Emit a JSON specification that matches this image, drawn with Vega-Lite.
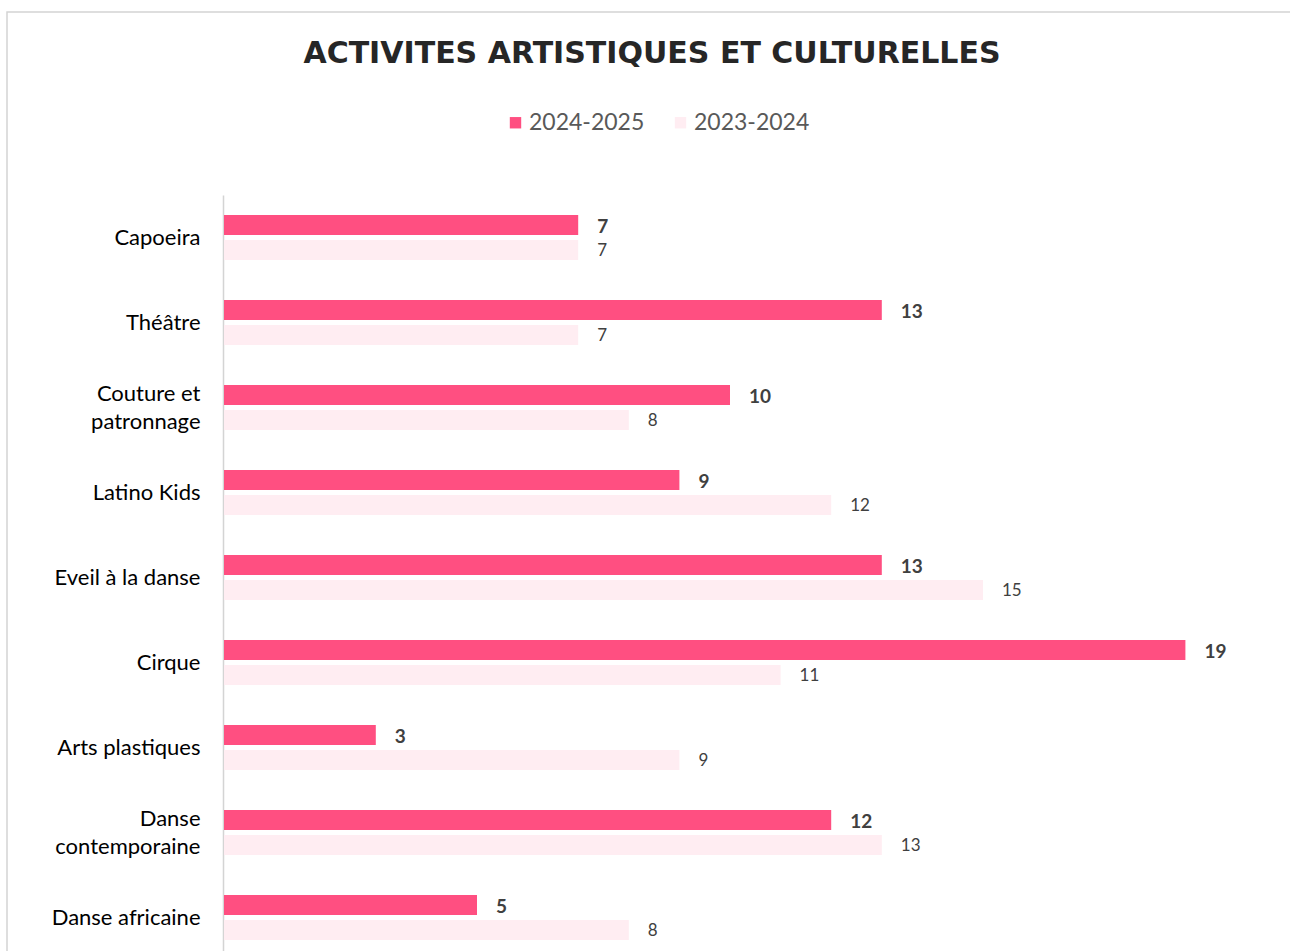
{
  "$schema": "https://vega.github.io/schema/vega-lite/v6.json",
  "autosize": {"type": "none"},
  "padding": {"left": 7, "top": 12, "right": 0, "bottom": 0},
  "width": 1290,
  "height": 960,
  "background": "white",
  "config": {
    "font": "Lato",
    "view": {"stroke": "#d4d4d4", "strokeWidth": 1.5}
  },
  "title": {
    "text": "ACTIVITES ARTISTIQUES ET CULTURELLES",
    "font": "DejaVu Sans",
    "fontSize": 30,
    "fontWeight": "bold",
    "color": "#262626",
    "anchor": "middle",
    "frame": "group",
    "baseline": "alphabetic",
    "offset": -81
  },
  "data": {
    "values": [
      {"activite": "Capoeira", "annee": "2024-2025", "valeur": 7},
      {"activite": "Capoeira", "annee": "2023-2024", "valeur": 7},
      {"activite": "Théâtre", "annee": "2024-2025", "valeur": 13},
      {"activite": "Théâtre", "annee": "2023-2024", "valeur": 7},
      {"activite": "Couture et patronnage", "annee": "2024-2025", "valeur": 10},
      {"activite": "Couture et patronnage", "annee": "2023-2024", "valeur": 8},
      {"activite": "Latino Kids", "annee": "2024-2025", "valeur": 9},
      {"activite": "Latino Kids", "annee": "2023-2024", "valeur": 12},
      {"activite": "Eveil à la danse", "annee": "2024-2025", "valeur": 13},
      {"activite": "Eveil à la danse", "annee": "2023-2024", "valeur": 15},
      {"activite": "Cirque", "annee": "2024-2025", "valeur": 19},
      {"activite": "Cirque", "annee": "2023-2024", "valeur": 11},
      {"activite": "Arts plastiques", "annee": "2024-2025", "valeur": 3},
      {"activite": "Arts plastiques", "annee": "2023-2024", "valeur": 9},
      {"activite": "Danse contemporaine", "annee": "2024-2025", "valeur": 12},
      {"activite": "Danse contemporaine", "annee": "2023-2024", "valeur": 13},
      {"activite": "Danse africaine", "annee": "2024-2025", "valeur": 5},
      {"activite": "Danse africaine", "annee": "2023-2024", "valeur": 8}
    ]
  },
  "encoding": {
    "y": {
      "field": "activite",
      "type": "nominal",
      "sort": null,
      "scale": {"range": [183, 948], "paddingInner": 0.47, "paddingOuter": 0.235},
      "axis": {
        "title": null,
        "offset": -216,
        "ticks": false,
        "domainColor": "#d4d4d4",
        "domainWidth": 1.5,
        "labelFont": "Lato",
        "labelFontSize": 22,
        "labelColor": "#000000",
        "labelPadding": 23,
        "labelLineHeight": 28,
        "labelBaseline": "middle",
        "labelOffset": {"condition": {"test": "datum.value == 'Couture et patronnage' || datum.value == 'Danse contemporaine'", "value": -14}, "value": 0},
        "labelExpr": "datum.value == 'Couture et patronnage' ? ['Couture et', 'patronnage'] : datum.value == 'Danse contemporaine' ? ['Danse', 'contemporaine'] : datum.value"
      }
    },
    "yOffset": {
      "field": "annee",
      "type": "nominal",
      "sort": ["2024-2025", "2023-2024"],
      "scale": {"paddingInner": 0.2, "paddingOuter": 0}
    },
    "x": {
      "field": "valeur",
      "type": "quantitative",
      "scale": {"domain": [0, 20], "range": [217, 1229], "nice": false, "zero": true},
      "axis": null
    }
  },
  "layer": [
    {
      "mark": {"type": "bar"},
      "encoding": {
        "color": {
          "field": "annee",
          "type": "nominal",
          "sort": ["2024-2025", "2023-2024"],
          "scale": {"domain": ["2024-2025", "2023-2024"], "range": ["#FF4F81", "#FFEDF2"]},
          "legend": {
            "title": null,
            "orient": "none",
            "direction": "horizontal",
            "legendX": 497,
            "legendY": 99,
            "symbolType": "square",
            "symbolSize": 130,
            "symbolStrokeWidth": 0,
            "labelFont": "Lato",
            "labelFontSize": 23,
            "labelColor": "#595959",
            "labelOffset": 2,
            "columnPadding": 24
          }
        }
      }
    },
    {
      "transform": [{"filter": "datum.annee == '2024-2025'"}],
      "mark": {"type": "text", "align": "left", "baseline": "middle", "dx": 19, "dy": 2, "fontSize": 19, "fontWeight": "bold", "color": "#404040", "font": "Lato"},
      "encoding": {"text": {"field": "valeur", "type": "quantitative"}}
    },
    {
      "transform": [{"filter": "datum.annee == '2023-2024'"}],
      "mark": {"type": "text", "align": "left", "baseline": "middle", "dx": 19, "dy": 1, "fontSize": 17, "color": "#404040", "font": "Lato"},
      "encoding": {"text": {"field": "valeur", "type": "quantitative"}}
    }
  ]
}
